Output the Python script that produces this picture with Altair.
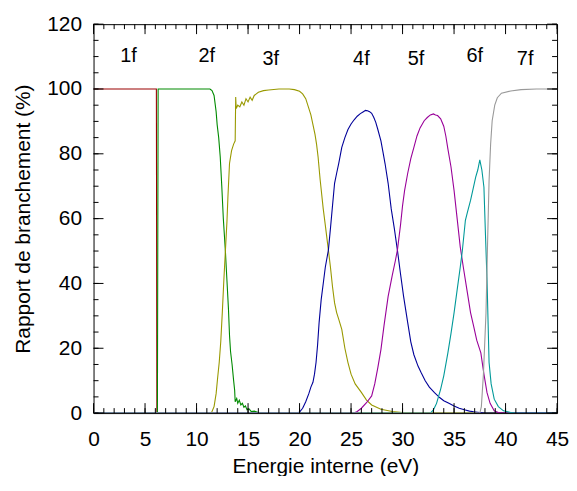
import altair as alt
import pandas as pd

# ---- data ----
series_names = ["1f", "2f", "3f", "4f", "5f", "6f", "7f"]
series_colors = ["#9a0000", "#008a00", "#999900", "#000099", "#990099", "#009999", "#999999"]

e_1f = [0, 6.1, 6.15, 45]
v_1f = [100, 100, 0, 0]

e_2f = [0, 6.2, 6.27, 8, 10, 11.3, 11.5, 11.7, 11.9, 12.0, 12.15, 12.3, 12.45, 12.6, 12.8,
        12.95, 13.1, 13.2, 13.3, 13.45, 13.6, 13.7, 13.75, 13.9, 14.0, 14.15, 14.3, 14.45,
        14.6, 14.75, 14.9, 15.1, 15.3, 15.6, 16.0, 16.5, 45]
v_2f = [0, 0, 100, 100, 100, 100, 99.5, 98, 93, 89, 85, 79, 70, 60, 50,
        41, 32, 24, 19, 15, 10, 7, 3.5, 4.5, 3, 4, 2.5, 3,
        1.8, 2.2, 1, 1.3, 0.5, 0.6, 0.2, 0, 0]

e_3f = [0, 11.4, 11.5, 11.7, 11.9, 12.05, 12.2, 12.35, 12.5, 12.65, 12.8, 12.95, 13.05, 13.2,
        13.4, 13.6, 13.75, 13.8, 13.85, 14.0, 14.2, 14.4, 14.6, 14.8, 15.0, 15.2, 15.4, 15.6,
        15.8, 16.0, 16.5, 17.0, 18.0, 19.0, 19.5, 20.0, 20.3, 20.6, 20.9, 21.1, 21.3, 21.5,
        21.65, 21.8, 22.0, 22.1, 22.3, 22.5, 22.8, 23.0, 23.2, 23.4, 23.6, 23.8, 24.1, 24.4,
        24.7, 25.0, 25.4, 26.0, 26.5, 27.0, 27.9, 29.0, 30.0, 31.0, 45]
v_3f = [0, 0, 0.5, 2, 6, 11, 15.6, 22, 31, 41, 50, 59, 67, 77,
        81, 83, 84, 97.5, 94, 95, 94.5, 96, 95, 97, 96, 97.5, 96.5, 98,
        98.5, 99, 99.5, 99.7, 100, 100, 99.8, 99.3, 98.5, 97, 94, 92, 89, 86,
        83, 79, 72, 69, 63, 58, 50.3, 45, 39, 34, 31, 29, 25.8, 20,
        15.6, 12, 9, 6.4, 4, 2.5, 1.2, 0.5, 0.2, 0, 0]

e_4f = [0, 19.8, 20.0, 20.3, 20.6, 20.9, 21.1, 21.3, 21.45, 21.6, 21.75, 21.9, 22.1, 22.3,
        22.5, 22.8, 23.0, 23.2, 23.4, 23.6, 23.8, 24.1, 24.4, 24.7, 25.0, 25.3, 25.6, 25.9,
        26.2, 26.4, 26.6, 26.8, 27.0, 27.2, 27.4, 27.6, 27.9, 28.1, 28.3, 28.6, 28.9, 29.2,
        29.5, 29.8, 30.1, 30.5, 30.8, 31.1, 31.5, 31.8, 32.2, 32.6, 33.1, 33.6, 34.0, 34.5,
        35.0, 35.5, 36.0, 36.5, 36.9, 37.5, 38.0, 45]
v_4f = [0, 0, 0.3, 1.5, 3.5, 6, 8, 9.5, 12, 15.6, 21, 28, 35, 40,
        45, 50.3, 57, 64, 70.9, 74, 77, 82, 85, 87.5, 89.2, 90.5, 91.6, 92.4,
        93.0, 93.4, 93.3, 93.0, 92.5, 91.3, 89.7, 87.5, 84, 80.5, 77, 70.9, 63, 57,
        50.3, 43, 36, 27.9, 22, 18, 14.5, 12.5, 10, 8, 6.3, 4.8, 3.8, 3,
        2.2, 1.5, 1.0, 0.6, 0.4, 0.2, 0, 0]

e_5f = [0, 25.3, 25.6, 26.0, 26.5, 27.0, 27.3, 27.6, 27.9, 28.2, 28.6, 29.0, 29.3, 29.5,
        29.8, 30.0, 30.2, 30.5, 30.8, 31.1, 31.4, 31.7, 32.1, 32.4, 32.7, 33.0, 33.2, 33.4,
        33.7, 34.0, 34.2, 34.4, 34.7, 35.0, 35.3, 35.6, 35.9, 36.3, 36.6, 36.9, 37.2, 37.6,
        37.9, 38.2, 38.5, 38.9, 39.3, 39.7, 45]
v_5f = [0, 0, 0.5, 1.5, 3.2, 5.3, 9, 14, 19.6, 27, 36, 42.5, 47, 50.3,
        58, 64, 68.7, 74, 78.5, 82, 85.5, 88, 90.2, 91.2, 92, 92.3, 92.0, 91.8,
        90.8, 88.5, 85.5, 81.5, 76, 68.7, 60, 51.3, 45, 37, 31, 26.8, 22.5, 18.6,
        12, 6.3, 3, 0.7, 0.2, 0, 0]

e_6f = [0, 32.7, 33.0, 33.3, 33.7, 34.0, 34.4, 34.7, 35.0, 35.3, 35.6, 35.8, 36.1, 36.3,
        36.6, 36.8, 37.1, 37.3, 37.5, 37.7, 37.9, 38.05, 38.2, 38.4, 38.6, 38.9, 39.3, 39.8,
        40.5, 41.0, 45]
v_6f = [0, 0, 1, 3, 7.4, 11.5, 18.6, 24.5, 30.9, 38, 45, 50, 59.5, 62,
        65.6, 68.5, 72.8, 75, 78.1, 75, 69.7, 55, 41.1, 15.6, 9, 4.3, 2, 0.7,
        0.2, 0, 0]

e_7f = [0, 37.5, 37.65, 37.85, 38.1, 38.25, 38.4, 38.55, 38.7, 38.95, 39.2, 39.6, 40.5,
        41.5, 43.0, 45]
v_7f = [0, 0, 2, 12, 30.9, 52, 71.8, 83, 90.2, 95, 97.3, 98.7, 99.4,
        99.8, 100, 100]

label_x = [3.4, 11.0, 17.2, 26.0, 31.3, 37.0, 41.9]
label_y = [110.1, 110.1, 109.2, 109.2, 109.2, 110.1, 109.2]

x_major = [0, 5, 10, 15, 20, 25, 30, 35, 40, 45]
x_minor = list(range(0, 46))
y_major = [0, 20, 40, 60, 80, 100, 120]
y_minor = list(range(0, 121, 5))

# ---- build tables ----
E_all = [e_1f, e_2f, e_3f, e_4f, e_5f, e_6f, e_7f]
V_all = [v_1f, v_2f, v_3f, v_4f, v_5f, v_6f, v_7f]
rows = []
for name, es, vs in zip(series_names, E_all, V_all):
    for i, (e, v) in enumerate(zip(es, vs)):
        rows.append({"x": e, "y": v, "s": name, "i": i})
df = pd.DataFrame(rows)
labels_df = pd.DataFrame({"x": label_x, "y": label_y, "t": series_names})

W, H = 466, 391
FONT = "Liberation Sans"

xscale = alt.Scale(domain=[0, 45], nice=False, zero=False)
yscale = alt.Scale(domain=[0, 120], nice=False, zero=False)

xaxis = alt.Axis(title="Energie interne (eV)", values=x_major, ticks=False, tickSize=0,
                 domain=False, grid=False, labelFontSize=21, titleFontSize=21,
                 labelPadding=16, titlePadding=6, labelFont=FONT, titleFont=FONT,
                 labelColor="black", titleColor="black", titleFontWeight="normal",
                 labelFlush=False)
yaxis = alt.Axis(title="Rapport de branchement (%)", values=y_major, ticks=False,
                 tickSize=0, domain=False, grid=False, labelFontSize=21,
                 titleFontSize=21, labelPadding=12, titlePadding=13, labelFont=FONT,
                 titleFont=FONT, labelColor="black", titleColor="black",
                 titleFontWeight="normal", labelFlush=False)

X = alt.X("x:Q", scale=xscale, axis=xaxis, title="Energie interne (eV)")
Y = alt.Y("y:Q", scale=yscale, axis=yaxis, title="Rapport de branchement (%)")

lines = alt.Chart(df).mark_line(strokeWidth=1.1, clip=True).encode(
    x=X, y=Y,
    color=alt.Color("s:N", scale=alt.Scale(domain=series_names, range=series_colors), legend=None),
    order=alt.Order("i:Q"),
)

texts = alt.Chart(labels_df).mark_text(fontSize=20, font=FONT, color="black",
                                       align="center", baseline="middle").encode(
    x=X, y=Y, text="t:N",
)


def xticks(vals, length, top):
    d = pd.DataFrame({"x": vals})
    if top:
        yy, yy2 = 0, length
    else:
        yy, yy2 = H, H - length
    return alt.Chart(d).mark_rule(color="black", strokeWidth=1).encode(
        x=X, y=alt.value(yy), y2=alt.value(yy2))


def yticks(vals, length, right):
    d = pd.DataFrame({"y": vals})
    if right:
        xx, xx2 = W, W - length
    else:
        xx, xx2 = 0, length
    return alt.Chart(d).mark_rule(color="black", strokeWidth=1).encode(
        y=Y, x=alt.value(xx), x2=alt.value(xx2))


tick_layers = [
    xticks(x_minor, 5, False), xticks(x_major, 10, False),
    xticks(x_minor, 5, True), xticks(x_major, 10, True),
    yticks(y_minor, 5, False), yticks(y_major, 10, False),
    yticks(y_minor, 5, True), yticks(y_major, 10, True),
]

chart = alt.layer(lines, texts, *tick_layers).properties(
    width=W, height=H,
    autosize=alt.AutoSizeParams(type="none"),
    padding={"left": 86, "top": 15, "right": 12, "bottom": 62},
    background="white",
).configure_view(stroke="black", strokeWidth=1)

chart.save("out.html", embed_options={"renderer": "svg", "actions": False})
